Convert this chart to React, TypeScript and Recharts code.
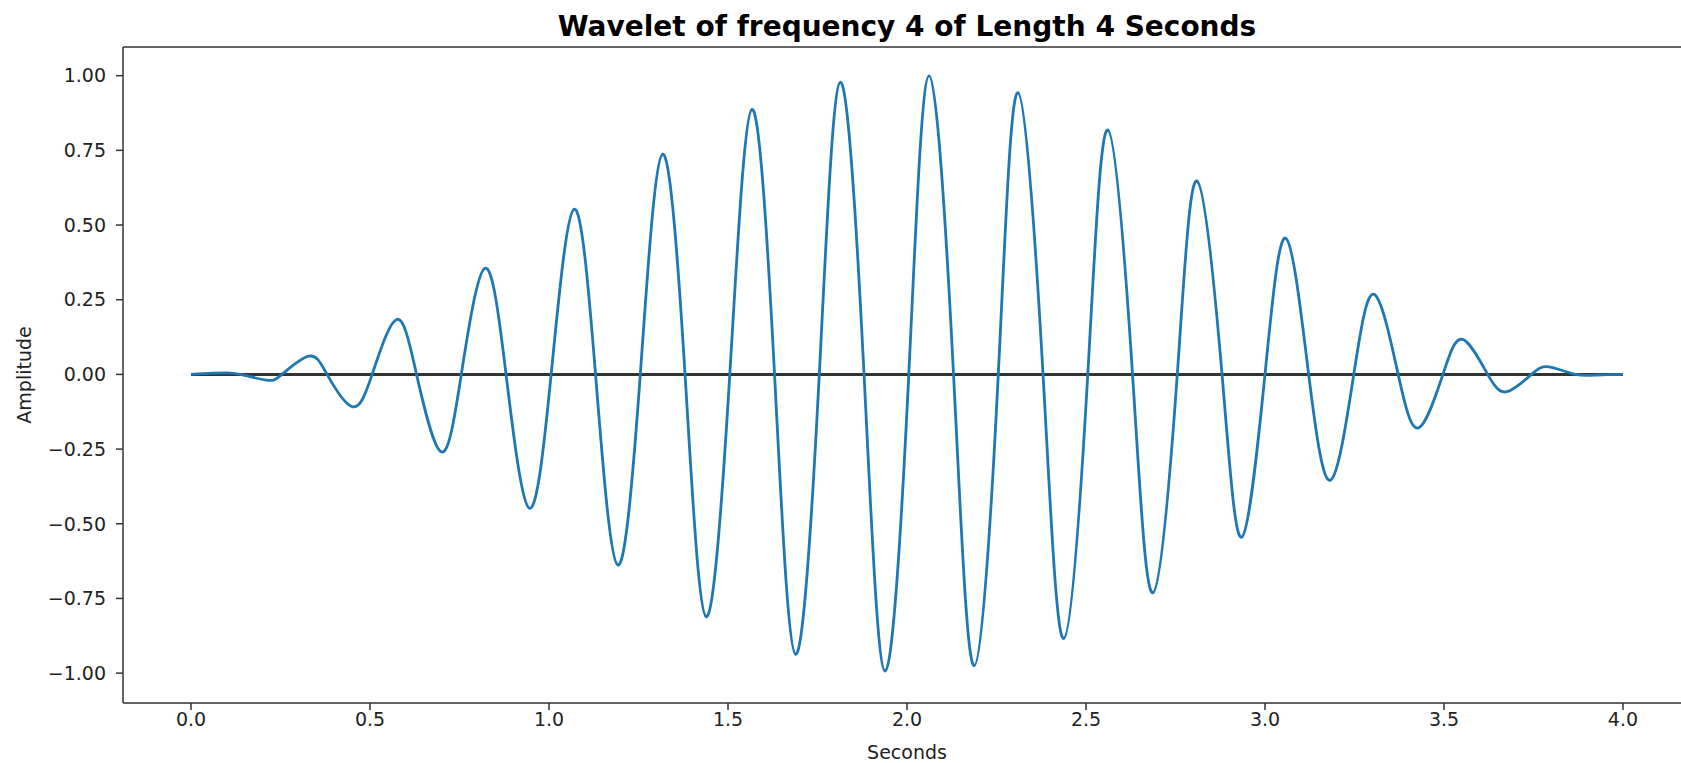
import React from "react";
import { LineChart, Line, XAxis, YAxis, ReferenceLine } from "recharts";

// seconds / amplitude: extrema and zero crossings of the wavelet
const times = [
    0, 0.06, 0.1, 0.137,
    0.21, 0.254, 0.329, 0.38, 0.45, 0.506, 0.574, 0.63, 0.699, 0.755,
    0.821, 0.88, 0.945, 1.006, 1.07, 1.13, 1.192, 1.255, 1.317, 1.38,
    1.439, 1.505, 1.567, 1.63, 1.689, 1.755, 1.814, 1.88, 1.939, 2.005,
    2.062, 2.13, 2.188, 2.255, 2.31, 2.38, 2.438, 2.505, 2.561, 2.63,
    2.687, 2.755, 2.81, 2.88, 2.935, 3.0, 3.058, 3.122, 3.183, 3.248,
    3.305, 3.372, 3.429, 3.497, 3.552, 3.622, 3.676, 3.744, 3.794, 3.867,
    3.93, 4.0,
];
const amplitudes = [
    0, 0.004, 0.005, 0,
    -0.019, 0, 0.061, 0, -0.108, 0, 0.184, 0, -0.259, 0,
    0.355, 0, -0.448, 0, 0.553, 0, -0.638, 0, 0.737, 0,
    -0.811, 0, 0.887, 0, -0.937, 0, 0.978, 0, -0.993, 0,
    0.999, 0, -0.975, 0, 0.943, 0, -0.884, 0, 0.818, 0,
    -0.731, 0, 0.647, 0, -0.545, 0, 0.456, 0, -0.354, 0,
    0.268, 0, -0.179, 0, 0.117, 0, -0.058, 0, 0.025, 0,
    -0.002, 0,
];

// black baseline drawn under the wave
const baselineX = [0, 4];

const xTicks = [0, 0.5, 1, 1.5, 2, 2.5, 3, 3.5, 4];
const yTicks = [-1, -0.75, -0.5, -0.25, 0, 0.25, 0.5, 0.75, 1];

const wave = times.map((t, i) => ({ t, v: amplitudes[i] }));
const baseline = baselineX.map((t) => ({ t, v: 0 }));

const X_DOMAIN = [-0.19, 4.19];
const Y_DOMAIN = [-1.1, 1.096];

const font = "DejaVu Sans";
const tickStyle = { fill: "#222", fontSize: 19, fontFamily: font };
const axisColor = "#333";

const fmtY = (v: number) => v.toFixed(2).replace("-", "\u2212");
const fmtX = (v: number) => v.toFixed(1);

const App = () => {
    return (
        <div
            style={{
                position: "absolute",
                left: 0,
                top: 0,
                width: 1681,
                height: 763,
                overflow: "hidden",
                background: "#fff",
                fontFamily: font,
            }}
        >
            <div
                style={{
                    position: "absolute",
                    left: 123,
                    top: 10,
                    width: 1568,
                    textAlign: "center",
                    fontWeight: "bold",
                    fontSize: 28,
                    color: "#000",
                }}
            >
                Wavelet of frequency 4 of Length 4 Seconds
            </div>
            <LineChart
                width={1691}
                height={763}
                margin={{ top: 47, right: 0, bottom: 0, left: 0 }}
            >
                <XAxis
                    dataKey="t"
                    type="number"
                    domain={X_DOMAIN}
                    allowDataOverflow
                    ticks={xTicks}
                    tickFormatter={fmtX}
                    height={60}
                    tickSize={7}
                    tickMargin={3}
                    tick={tickStyle}
                    stroke={axisColor}
                    strokeWidth={1.5}
                    label={{
                        value: "Seconds",
                        position: "insideBottom",
                        offset: 4,
                        fill: "#222",
                        fontSize: 19,
                        fontFamily: font,
                    }}
                />
                <YAxis
                    type="number"
                    domain={Y_DOMAIN}
                    allowDataOverflow
                    ticks={yTicks}
                    tickFormatter={fmtY}
                    width={123}
                    tickSize={7}
                    tickMargin={10}
                    tick={tickStyle}
                    stroke={axisColor}
                    strokeWidth={1.5}
                    label={{
                        value: "Amplitude",
                        angle: -90,
                        position: "insideLeft",
                        offset: 24,
                        fill: "#222",
                        fontSize: 19,
                        fontFamily: font,
                        style: { textAnchor: "middle" },
                    }}
                />
                {/* top spine */}
                <ReferenceLine y={Y_DOMAIN[1]} stroke={axisColor} strokeWidth={1.5} />
                <Line
                    data={baseline}
                    dataKey="v"
                    type="linear"
                    stroke="#333"
                    strokeWidth={3}
                    dot={false}
                    isAnimationActive={false}
                />
                <Line
                    data={wave}
                    dataKey="v"
                    type="natural"
                    stroke="#1f77b4"
                    strokeWidth={2.8}
                    dot={false}
                    isAnimationActive={false}
                />
            </LineChart>
        </div>
    );
};

export default App;
